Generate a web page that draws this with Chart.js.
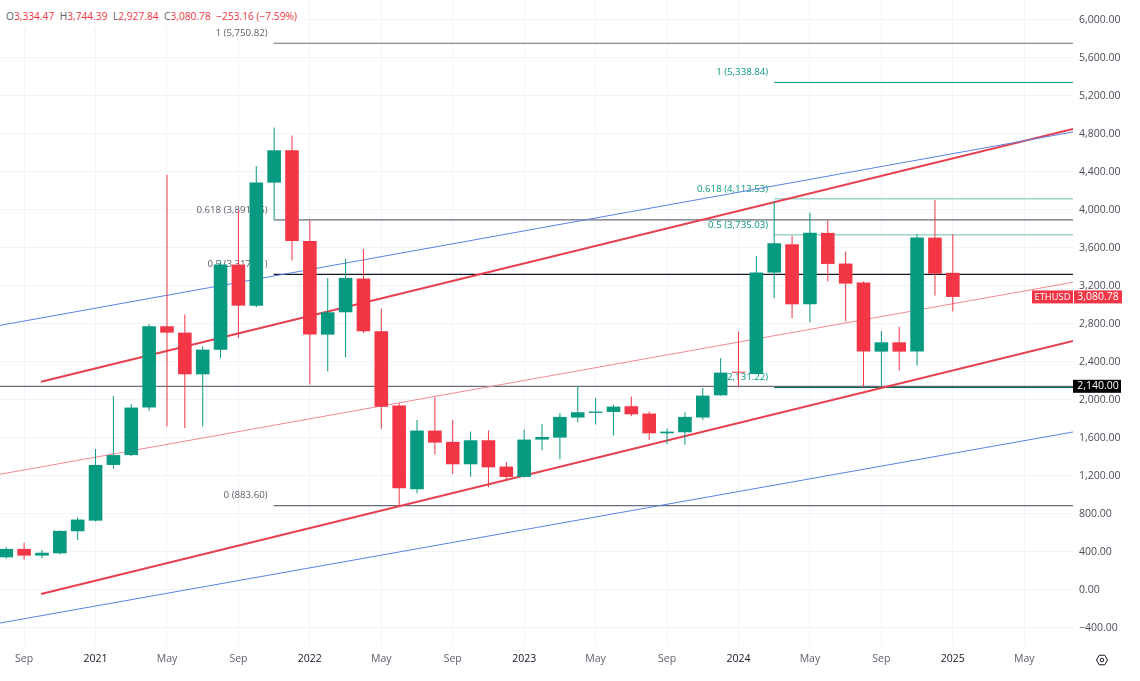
<!DOCTYPE html>
<html>
<head>
<meta charset="utf-8">
<title>ETHUSD monthly</title>
<script src="https://cdn.jsdelivr.net/npm/chart.js@4/dist/chart.umd.min.js"></script>
<style>
    html, body { margin: 0; padding: 0; background: #ffffff; overflow: hidden; }
    #wrap { position: relative; width: 1140px; height: 681px; }
    #header { position: absolute; left: 0; top: 0; height: 19px; padding: 9px 6px 0 6px; background: #ffffff; display: flex; gap: 5.5px; font: 10.2px "Open Sans", sans-serif; color: #f23645; white-space: nowrap; }
    #header b { font-weight: 400; color: #5d606b; }
</style>
</head>
<body>
<div id="wrap">
    <canvas id="chart" width="1140" height="681"></canvas>
    <div id="header">
        <span><b>O</b>3,334.47</span>
        <span><b>H</b>3,744.39</span>
        <span><b>L</b>2,927.84</span>
        <span><b>C</b>3,080.78</span>
        <span>−253.16 (−7.59%)</span>
    </div>
</div>
<script>
// months counted from Jan 2021 = 0
const months = [-5,-4,-3,-2,-1,0,1,2,3,4,5,6,7,8,9,10,11,12,13,14,15,16,17,18,19,20,21,22,23,24,25,26,27,28,29,30,31,32,33,34,35,36,37,38,39,40,41,42,43,44,45,46,47,48];
const opens = [340,428,358,382,614,726,1312,1416,1916,2772,2705,2266,2524,3421,2989,4284,4624,3670,2684,2919,3274,2719,1937,1056,1674,1555,1319,1572,1295,1186,1579,1600,1811,1860,1870,1930,1853,1645,1656,1811,2045,2284,2270,3337,3635,3003,3755,3432,3232,2505,2603,2505,3705,3334.47];
const closes = [428,358,388,618,737,1312,1416,1916,2772,2705,2266,2526,3421,2989,4284,4624,3670,2684,2919,3281,2719,1926,1066,1674,1547,1319,1572,1287,1186,1579,1607,1818,1867,1874,1926,1845,1645,1663,1818,2042,2284,2283,3337,3646,3003,3755,3428,3221,2505,2603,2505,3705,3326,3080.78];
const highs = [445,492,418,622,761,1481,2039,1954,2797,4368,2895,2558,3463,3989,4456,4863,4779,3884,3281,3481,3586,2958,1961,1786,2024,1786,1663,1674,1344,1684,1744,1860,2137,2018,1947,2032,1874,1692,1866,2123,2439,2716,3512,4087,3726,3968,3884,3558,3242,2723,2768,3737,4102,3744.39];
const lows = [326,316,330,373,523,718,1274,1405,1884,1716,1702,1716,2439,2649,2972,3902,3463,2158,2298,2445,2700,1692,874,1014,1421,1218,1189,1077,1147,1180,1466,1372,1761,1737,1621,1824,1576,1533,1526,1786,2040,2130,2265,3066,2856,2814,3242,2824,2130,2147,2305,2358,3095,2927.84];

const xTickMonths = [-4,0,4,8,12,16,20,24,28,32,36,40,44,48,52];
const xTickLabels = ["Sep","2021","May","Sep","2022","May","Sep","2023","May","Sep","2024","May","Sep","2025","May"];
const yTicks = [-400,0,400,800,1200,1600,2000,2400,2800,3200,3600,4000,4400,4800,5200,5600,6000];

// trend channel, [month, price] at both ends
const blueUpper = [[-5.35,2781],[54.73,4817]];
const redUpper = [[-3.05,2188],[54.73,4848]];
const pinkMiddle = [[-5.35,1214],[54.73,3235]];
const redLower = [[-3.05,-46],[54.73,2617]];
const blueLower = [[-5.35,-352],[54.73,1659]];

// fib levels
const blackFibLevels = [5750.82,3891.46,3317.21,883.60];
const blackFibNames = ["1 (5,750.82)","0.618 (3,891.46)","0.5 (3,317.21)","0 (883.60)"];
const greenFibLevels = [5338.84,4113.53,3735.03,2131.22];
const greenFibNames = ["1 (5,338.84)","0.618 (4,113.53)","0.5 (3,735.03)","0 (2,131.22)"];
const blackFibStart = 9.97;
const greenFibStart = 38;
const rightEdge = 54.73;
const leftEdge = -5.35;

const supportLevel = 2140;
const lastClose = 3080.78;

const GREEN = "#089981";
const RED = "#f23645";
const FONT = '"Open Sans", sans-serif';
const candleColors = opens.map((o, i) => closes[i] >= o ? GREEN : RED);

function toPoints(pairs) {
    return pairs.map(p => ({ x: p[0], y: p[1] }));
}

function lineSet(points, color, width) {
    return {
        type: "line",
        data: points,
        borderColor: color,
        borderWidth: width,
        pointRadius: 0,
        order: 3
    };
}

const datasets = [
    {
        label: "bodies",
        data: months.map((m, i) => ({ x: m, y: [opens[i], closes[i]] })),
        backgroundColor: candleColors,
        barThickness: 13.6,
        minBarLength: 1,
        inflateAmount: 0,
        grouped: false,
        order: 1
    },
    {
        label: "wicks",
        data: months.map((m, i) => ({ x: m, y: [lows[i], highs[i]] })),
        backgroundColor: candleColors,
        barThickness: 1,
        inflateAmount: 0,
        grouped: false,
        order: 2
    },
    lineSet(toPoints(blueUpper), "#5a82e6", 1),
    lineSet(toPoints(redUpper), "#e8404f", 2),
    lineSet(toPoints(pinkMiddle), "#f08a92", 1),
    lineSet(toPoints(redLower), "#e8404f", 2),
    lineSet(toPoints(blueLower), "#5a82e6", 1),
    lineSet(toPoints([[leftEdge, supportLevel], [rightEdge, supportLevel]]), "#6a6d78", 1.2)
];

const blackFibColors = ["#6a6d78", "#6a6d78", "#131722", "#6a6d78"];
const greenFibColors = ["#089981", "#9bd6c8", "#9bd6c8", "#056656"];
blackFibLevels.forEach((v, i) => {
    datasets.push(lineSet(toPoints([[blackFibStart, v], [rightEdge, v]]), blackFibColors[i], 1.2));
});
greenFibLevels.forEach((v, i) => {
    datasets.push(lineSet(toPoints([[greenFibStart, v], [rightEdge, v]]), greenFibColors[i], i === 0 ? 1 : 1.5));
});

// fib labels go under the candles, like in the original
const fibLabels = {
    id: "fibLabels",
    beforeDatasetsDraw(chart) {
        const { ctx, scales } = chart;
        ctx.save();
        ctx.font = "9.7px " + FONT;
        ctx.textAlign = "right";
        ctx.textBaseline = "middle";
        ctx.fillStyle = "#5d606b";
        blackFibLevels.forEach((v, i) => {
            ctx.fillText(blackFibNames[i], scales.x.getPixelForValue(blackFibStart) - 6, scales.y.getPixelForValue(v) - 10);
        });
        ctx.fillStyle = GREEN;
        greenFibLevels.forEach((v, i) => {
            ctx.fillText(greenFibNames[i], scales.x.getPixelForValue(greenFibStart) - 6, scales.y.getPixelForValue(v) - 10);
        });
        ctx.restore();
    }
};

const priceTags = {
    id: "priceTags",
    afterDraw(chart) {
        const { ctx, scales, chartArea } = chart;
        const left = chartArea.right;
        ctx.save();
        ctx.textBaseline = "middle";
        ctx.textAlign = "center";

        const closeY = scales.y.getPixelForValue(lastClose);
        ctx.fillStyle = RED;
        ctx.fillRect(left - 41, closeY - 6.5, 41, 13);
        ctx.fillRect(left + 1, closeY - 6.5, 48, 13);
        ctx.fillStyle = "#ffffff";
        ctx.font = "9.4px " + FONT;
        ctx.fillText("ETHUSD", left - 20.5, closeY);
        ctx.font = "10.5px " + FONT;
        ctx.fillText("3,080.78", left + 25, closeY);

        const supportY = scales.y.getPixelForValue(supportLevel);
        ctx.fillStyle = "#000000";
        ctx.fillRect(left, supportY - 6.5, 48, 13);
        ctx.fillStyle = "#ffffff";
        ctx.fillText("2,140.00", left + 25, supportY);

        // small settings icon in the corner
        const cx = left + 29, cy = 660, r = 5.5;
        ctx.strokeStyle = "#131722";
        ctx.lineWidth = 1;
        ctx.beginPath();
        for (let i = 0; i < 6; i++) {
            const a = Math.PI / 3 * i;
            const px = cx + r * Math.cos(a), py = cy + r * Math.sin(a);
            if (i === 0) ctx.moveTo(px, py); else ctx.lineTo(px, py);
        }
        ctx.closePath();
        ctx.stroke();
        ctx.beginPath();
        ctx.arc(cx, cy, 1.8, 0, Math.PI * 2);
        ctx.stroke();
        ctx.restore();
    }
};

new Chart(document.getElementById("chart"), {
    type: "bar",
    data: { datasets: datasets },
    plugins: [fibLabels, priceTags],
    options: {
        responsive: false,
        animation: false,
        layout: { padding: 0, autoPadding: false },
        plugins: { legend: { display: false }, tooltip: { enabled: false } },
        scales: {
            x: {
                type: "linear",
                offset: false,
                min: leftEdge,
                max: rightEdge,
                afterBuildTicks(axis) {
                    axis.ticks = xTickMonths.map(m => ({ value: m }));
                },
                afterFit(axis) {
                    axis.height = 36;
                    axis.paddingLeft = axis.paddingRight = axis.paddingTop = axis.paddingBottom = 0;
                },
                border: { display: false },
                grid: { offset: false, color: "#f3f4f8", drawTicks: false },
                ticks: {
                    autoSkip: false,
                    maxRotation: 0,
                    padding: 8,
                    callback(value) {
                        return xTickLabels[xTickMonths.indexOf(value)];
                    },
                    color(ctx) {
                        return ctx.index % 3 === 1 ? "#131722" : "#5d606b";
                    },
                    font: { family: FONT, size: 10.5 }
                }
            },
            y: {
                type: "linear",
                position: "right",
                min: -583.2,
                max: 6206.3,
                afterBuildTicks(axis) {
                    axis.ticks = yTicks.map(v => ({ value: v }));
                },
                afterFit(axis) {
                    axis.width = 67;
                    axis.paddingLeft = axis.paddingRight = axis.paddingTop = axis.paddingBottom = 0;
                },
                border: { display: false },
                grid: { color: "#f3f4f8", drawTicks: false },
                ticks: {
                    padding: 6,
                    color: "#4a4d57",
                    font: { family: FONT, size: 10.5 },
                    callback(value) {
                        return value.toLocaleString("en-US", { minimumFractionDigits: 2, maximumFractionDigits: 2 }).replace("-", "−");
                    }
                }
            }
        }
    }
});
</script>
</body>
</html>
